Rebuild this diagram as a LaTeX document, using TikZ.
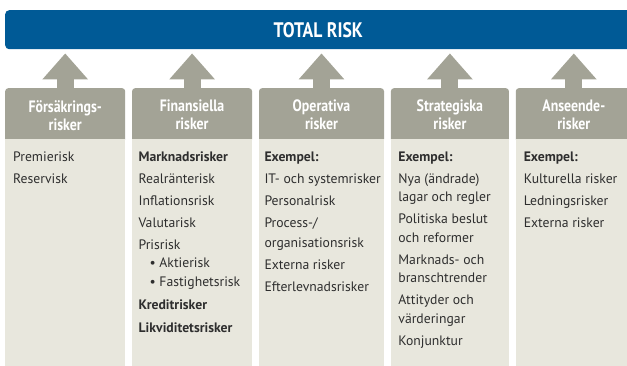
\documentclass[tikz,border=0pt]{standalone}
\usepackage{fontspec}
\setmainfont{PT Sans}
\newfontfamily\condfont{PT Sans}[FakeStretch=0.84]
\usetikzlibrary{arrows.meta,positioning}
\definecolor{riskblue}{HTML}{005A96}
\definecolor{riskgrey}{HTML}{A3A396}
\definecolor{riskpale}{HTML}{E8E7DD}
\definecolor{risktext}{HTML}{2E2E2E}

\begin{document}
\begin{tikzpicture}[x=1pt, y=-1pt, node distance=6.5pt,
  bar/.style={fill=riskblue, rounded corners=4pt, text=white, minimum width=626pt, minimum height=39pt, inner sep=0pt, font=\condfont\bfseries\fontsize{21pt}{23pt}\selectfont},
  head/.style={fill=riskgrey, rounded corners=3pt, text=white, align=center, minimum height=54pt, inner sep=0pt, font=\condfont\bfseries\fontsize{16.5pt}{18pt}\selectfont},
  body/.style={fill=riskpale, minimum height=240pt, inner sep=0pt},
  list/.style={align=left, inner sep=0pt, text=risktext, font=\fontsize{13.7pt}{18.5pt}\selectfont},
  uparrow/.style={draw=riskgrey, line width=17pt, -{Triangle[width=44pt,length=26pt]}, shorten >=4pt}]
\path[clip] (0,0) rectangle (627,365);

% top bar
\node[bar, anchor=north west] (total) at (5,10) {TOTAL RISK};

% column heads
\node[head, minimum width=120pt, anchor=north west] (fors) at (5,88) {Försäkrings-\\risker};
\node[head, minimum width=120pt, right=of fors] (fin) {Finansiella\\risker};
\node[head, minimum width=125pt, right=of fin] (oper) {Operativa\\risker};
\node[head, minimum width=118pt, right=of oper] (strat) {Strategiska\\risker};
\node[head, minimum width=116pt, right=of strat] (ans) {Anseende-\\risker};

% column bodies
\node[body, minimum width=120pt, below=-4pt of fors] (forsb) {};
\node[body, minimum width=120pt, below=-4pt of fin] (finb) {};
\node[body, minimum width=125pt, below=-4pt of oper] (operb) {};
\node[body, minimum width=118pt, below=-4pt of strat] (stratb) {};
\node[body, minimum width=116pt, below=-4pt of ans] (ansb) {};

% arrows up into the bar
\foreach \c in {fors,fin,oper,strat,ans}
  \draw[uparrow] (\c.north) -- (\c.north |- total.south);

% lists
\node[list, below right=13pt and 8pt of forsb.north west] (forsl) {Premierisk\\[3.5pt]Reservisk};
\node[list, below right=13pt and 6.5pt of finb.north west] (finl) {\textbf{Marknadsrisker}\\[3.5pt]Realränterisk\\[3.5pt]Inflationsrisk\\[3.5pt]Valutarisk\\[3.5pt]Prisrisk\\[-0.5pt]
  \hspace*{11pt}\textbullet\ Aktierisk\\[0.5pt]
  \hspace*{11pt}\textbullet\ Fastighetsrisk\\[5pt]\textbf{Kreditrisker}\\[4.5pt]\textbf{Likviditetsrisker}};
\node[list, below right=13pt and 5.5pt of operb.north west] (operl) {\textbf{Exempel:}\\[3.5pt]IT- och systemrisker\\[3.5pt]Personalrisk\\[3.5pt]Process-/\\[1.5pt]organisationsrisk\\[3.5pt]Externa risker\\[3.5pt]Efterlevnadsrisker};
\node[list, below right=13pt and 7.5pt of stratb.north west] (stratl) {\textbf{Exempel:}\\[3.5pt]Nya (ändrade)\\lagar och regler\\[3.5pt]Politiska beslut\\och reformer\\[3.5pt]Marknads- och\\branschtrender\\[3.5pt]Attityder och\\värderingar\\[3.5pt]Konjunktur};
\node[list, below right=13pt and 8pt of ansb.north west] (ansl) {\textbf{Exempel:}\\[3.5pt]Kulturella risker\\[3.5pt]Ledningsrisker\\[3.5pt]Externa risker};
\end{tikzpicture}
\end{document}
